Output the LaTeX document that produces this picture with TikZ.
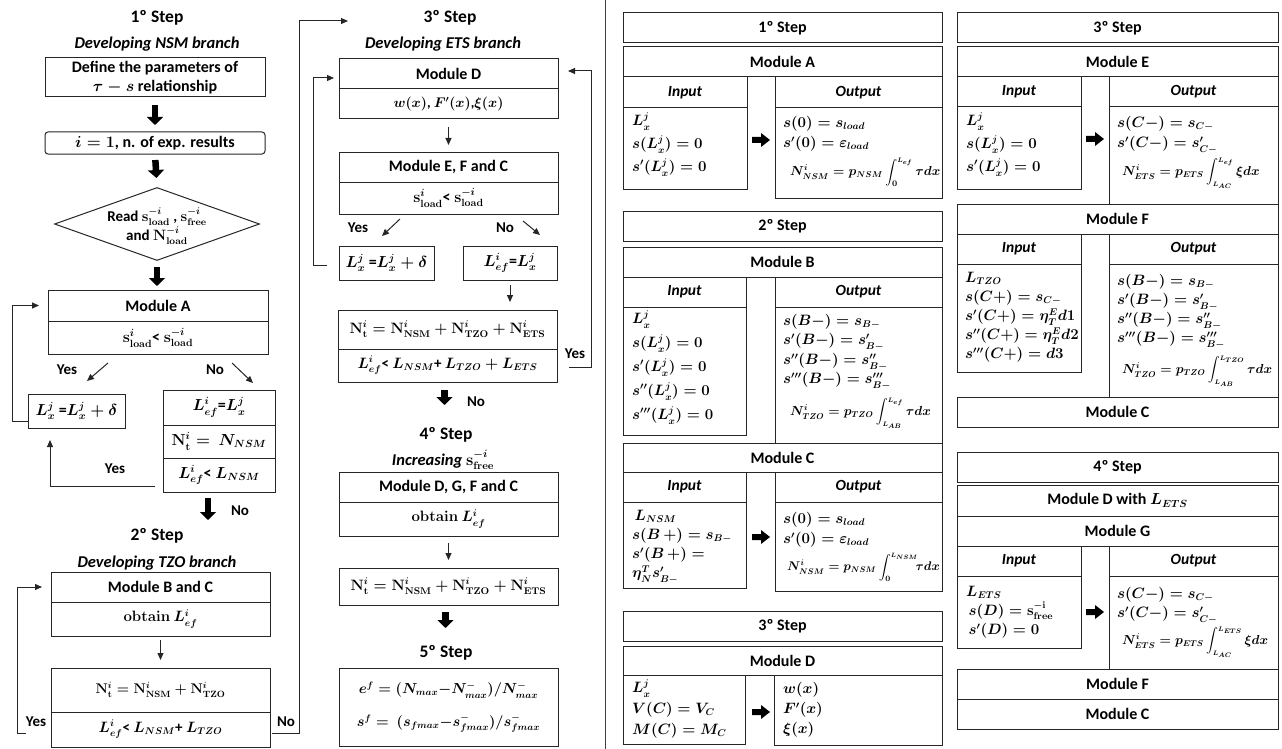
\RequirePackage{fix-cm}
\documentclass[tikz,border=0pt]{standalone}
\usepackage{amsmath}
\usepackage{fontspec}
\setmainfont{Carlito}
\renewcommand{\defaultscriptratio}{.65}
\renewcommand{\defaultscriptscriptratio}{.5}
\usetikzlibrary{shapes.geometric,arrows.meta,calc}
\newcommand{\mycell}[7][]{%
  \pgfmathsetmacro{\mcx}{(#3+#5)/2}%
  \pgfmathsetmacro{\mcy}{(#4+#6)/2}%
  \pgfmathsetmacro{\mcw}{#5-#3}%
  \pgfmathsetmacro{\mch}{#6-#4}%
  \node[cellbox, minimum width=\mcw pt, minimum height=\mch pt, #1] (#2) at (\mcx,\mcy) {#7};}
\newcommand{\rarrow}[2]{\fill[black] ($(#1,#2)+(-9,-3)$) -- ++(9,0) -- ++(0,-4) -- ++(9,7) -- ++(-9,7) -- ++(0,-4) -- ++(-9,0) -- cycle;}
\newcommand{\smlim}[1]{{\scriptscriptstyle #1}}
\tikzset{
  ln/.style={draw=black!85, line width=1pt},
  cellbox/.style={ln, rectangle, inner sep=0pt, outer sep=0pt, align=center, font=\fontsize{16}{19}\selectfont\bfseries\boldmath},
  mcell/.style={font=\fontsize{#1}{20}\selectfont\bfseries\boldmath},
  mcell/.default=16,
  hcell/.style={font=\fontsize{15.5}{18}\selectfont\bfseries\itshape},
  ttl/.style={font=\fontsize{17.5}{20}\selectfont\bfseries, inner sep=0pt},
  subt/.style={font=\fontsize{16.5}{19}\selectfont\bfseries\itshape\boldmath, inner sep=0pt},
  lab/.style={font=\fontsize{15}{18}\selectfont\bfseries, inner sep=0pt},
  body/.style={anchor=north west, align=left, inner sep=0pt, font=\fontsize{15}{#1}\selectfont\boldmath},
  intg/.style={anchor=west, inner sep=0pt, font=\fontsize{13}{16}\selectfont\boldmath},
  arr/.style={draw=black!85, line width=1pt, -{Triangle[length=7pt,width=6pt]}},
  bigarr/.style={line width=6.5pt, black, -{Triangle[length=8pt,width=16pt]}},
}
\begin{document}
\begin{tikzpicture}[x=1pt,y=-1pt]
\useasboundingbox (0,0) rectangle (1282,749);
\fill[white] (0,0) rectangle (1282,749);

% ---------------- Left column ----------------
\node[ttl] (t1) at (157,18) {1º Step};
\node[subt] (s1) at (157,44) {Developing NSM branch};
\mycell{def}{45}{58}{265}{97}{Define the parameters of\\$\tau - s$ relationship}
\mycell[rounded corners=3pt]{init}{45}{132}{265}{154}{$i = 1$, n. of exp. results}
\node[ln, diamond, minimum width=205pt, minimum height=73pt, inner sep=0pt] (dia) at (157,224) {};
\node[font=\fontsize{15}{19}\selectfont\bfseries\boldmath, align=center, inner sep=0pt] (diat) at (157,226) {Read $\mathbf{s}^{-i}_{\mathbf{load}}$ , $\mathbf{s}^{-i}_{\mathbf{free}}$\\and $\mathbf{N}^{-i}_{\mathbf{load}}$};
\mycell{modA}{48}{290}{268}{321}{Module A}
\mycell[mcell]{modAc}{48}{321}{268}{354}{$\mathbf{s}^{i}_{\mathbf{load}}$< $\mathbf{s}^{-i}_{\mathbf{load}}$}
\node[lab] (yesA) at (67,370) {Yes};
\node[lab] (noA) at (215,370) {No};
\mycell[mcell]{lx}{28}{394}{125}{428}{$L^{j}_{x}$ =$L^{j}_{x} + \delta$}
\mycell[mcell]{ef1}{163}{390}{275}{425}{$L^{i}_{ef}$=$L^{j}_{x}$}
\mycell[mcell]{ef2}{163}{425}{275}{458}{$\mathbf{N}^{i}_{\mathbf{t}} =\ N_{NSM}$}
\mycell[mcell]{ef3}{163}{458}{275}{492}{$L^{i}_{ef}$< $L_{NSM}$}
\node[lab] (yesB) at (115,469) {Yes};
\node[lab] (noB) at (240,511) {No};
\node[ttl] (t2) at (157,536) {2º Step};
\node[subt] (s2) at (157,563) {Developing TZO branch};
\mycell{mBC1}{51}{572}{270}{602}{Module B and C}
\mycell[mcell=15]{mBC2}{51}{602}{270}{636}{$\mathbf{obtain}\ L^{i}_{ef}$}
\mycell[mcell=14]{nt1}{51}{668}{270}{712}{$\mathbf{N}^{i}_{\mathbf{t}} = \mathbf{N}^{i}_{\mathbf{NSM}} + \mathbf{N}^{i}_{\mathbf{TZO}}$}
\mycell[mcell=15]{nt2}{51}{712}{270}{747}{$L^{i}_{ef}$< $L_{NSM}$+ $L_{TZO}$}
\node[lab] (yesC) at (36,722) {Yes};
\node[lab] (noC) at (286,722) {No};
\coordinate (loopNo) at (348,21);

% left connectors
\draw[bigarr, shorten <=8pt, shorten >=7pt] (def.south) -- (init.north);
\draw[bigarr, shorten <=6pt, shorten >=9pt] (init.south) -- (dia.north);
\draw[bigarr, shorten <=6pt, shorten >=4pt] (dia.south) -- (dia.south |- modA.north);
\draw[arr] (108,363) -- (87,381);
\draw[arr] (232,363) -- (253,383);
\draw[arr, shorten >=9pt] ($(lx.west)+(0,10)$) -- ++(-16,0) |- (modA.west);
\draw[arr, shorten >=12pt] ($(ef3.west)+(-8,11)$) -| ($(lx.south west)+(22,0)$);
\draw[bigarr] ($(ef3.south)+(-11,6)$) -- ++(0,22);
\draw[arr, shorten <=4pt, shorten >=8pt] (mBC2.south) -- (nt1.north);
\draw[arr, shorten >=9pt] ($(nt2.west)+(-25,4)$) -- ++(-9,0) |- (mBC1.west);
\draw[arr] ($(nt2.east)+(2,4)$) -- ++(27,0) |- (loopNo);

% ---------------- Middle column ----------------
\node[ttl] (t3) at (450,18) {3º Step};
\node[subt] (s3) at (443,44) {Developing ETS branch};
\mycell{mD1}{339}{59}{558}{89}{Module D}
\mycell[mcell=14]{mD2}{339}{89}{558}{119}{$w(x)$, $F'(x)$,$\xi(x)$}
\mycell{mE1}{339}{152}{558}{182}{Module E, F and C}
\mycell[mcell]{mE2}{339}{182}{558}{214}{$\mathbf{s}^{i}_{\mathbf{load}}$< $\mathbf{s}^{-i}_{\mathbf{load}}$}
\node[lab] (yesD) at (358,228) {Yes};
\node[lab] (noD) at (505,228) {No};
\mycell[mcell]{lxb}{339}{246}{434}{280}{$L^{j}_{x}$ =$L^{j}_{x} + \delta$}
\mycell[mcell]{efb}{463}{246}{557}{280}{$L^{i}_{ef}$=$L^{j}_{x}$}
\mycell[mcell=15]{nb1}{338}{310}{557}{349}{$\mathbf{N}^{i}_{\mathbf{t}} = \mathbf{N}^{i}_{\mathbf{NSM}} + \mathbf{N}^{i}_{\mathbf{TZO}} + \mathbf{N}^{i}_{\mathbf{ETS}}$}
\mycell[mcell=15]{nb2}{338}{349}{557}{382}{$L^{i}_{ef}$< $L_{NSM}$+ $L_{TZO} + L_{ETS}$}
\node[lab] (yesE) at (575,354) {Yes};
\node[lab] (noE) at (476,402) {No};
\node[ttl] (t4) at (446,435) {4º Step};
\node[subt] (s4) at (443,460) {Increasing $\mathbf{s}^{-i}_{\mathbf{free}}$};
\mycell{mG1}{339}{472}{558}{502}{Module D, G, F and C}
\mycell[mcell=15]{mG2}{339}{502}{558}{536}{$\mathbf{obtain}\ L^{i}_{ef}$}
\mycell[mcell=15]{nt3}{339}{568}{558}{605}{$\mathbf{N}^{i}_{\mathbf{t}} = \mathbf{N}^{i}_{\mathbf{NSM}} + \mathbf{N}^{i}_{\mathbf{TZO}} + \mathbf{N}^{i}_{\mathbf{ETS}}$}
\node[ttl] (t5) at (446,653) {5º Step};
\mycell[font=\fontsize{14.5}{33}\selectfont\boldmath]{fin}{339}{668}{558}{746}{$e^{f} = (N_{max}{-}N^{-}_{max})/N^{-}_{max}$\\$s^{f} =\ (s_{fmax}{-}s^{-}_{fmax})/s^{-}_{fmax}$}

% middle connectors
\draw[arr, shorten <=8pt, shorten >=7pt] (mD2.south) -- (mE1.north);
\draw[arr] (400,219) -- (382,236);
\draw[arr] (523,221) -- (540,235);
\draw[arr, shorten >=5pt] ($(lxb.west)+(-12,2)$) -- ++(-14,0) |- ($(mD1.west)+(0,4)$);
\draw[arr, shorten >=10pt] ($(nb2.east)+(12,2)$) -- ++(22,0) |- ($(mD1.east)+(0,-3)$);
\draw[arr, shorten <=5pt, shorten >=8pt] (efb.south) -- (efb.south |- nb1.north);
\draw[bigarr, shorten <=8pt, shorten >=5pt] ($(nb2.south)+(-3,0)$) -- ($(nb2.south)+(-3,28)$);
\draw[arr, shorten <=7pt, shorten >=8pt] (mG2.south) -- (nt3.north);
\draw[bigarr, shorten <=7pt, shorten >=5pt] ($(nt3.south)+(-3,0)$) -- ($(nt3.south)+(-3,28)$);

% separator
\draw[line width=1pt, black!75] (605,0) -- (605,749);

% ---------------- Right tables, column 1 ----------------
\mycell{r1s}{623}{13}{942}{43}{1º Step}
\mycell{rA}{623}{47}{942}{77}{Module A}
\mycell[hcell]{rAi}{623}{77}{747}{108}{Input}
\mycell[hcell]{rAo}{775}{77}{942}{108}{Output}
\mycell{rAib}{623}{108}{747}{189}{}
\mycell{rAob}{775}{108}{942}{198}{}
\rarrow{761}{140}
\node[body=23] (tAi) at (632,113) {$L^{j}_{x}$\\$s(L^{j}_{x}) = 0$\\$s'(L^{j}_{x}) = 0$};
\node[body=20] (tAo) at (783,116) {$s(0) = s_{load}$\\$s'(0) = \varepsilon_{load}$};
\node[intg] (tAn) at (790,172) {$N^{i}_{NSM} = p_{NSM}\displaystyle\int_{0}^{\smlim{L_{ef}}}\tau dx$};

\mycell{r2s}{623}{211}{942}{241}{2º Step}
\mycell{rB}{623}{247}{942}{277}{Module B}
\mycell[hcell]{rBi}{623}{277}{746}{307}{Input}
\mycell[hcell]{rBo}{775}{277}{942}{307}{Output}
\mycell{rBib}{623}{307}{746}{435}{}
\mycell{rBob}{775}{307}{942}{443}{}
\node[body=24] (tBi) at (632,311) {$L^{j}_{x}$\\$s(L^{j}_{x}) = 0$\\$s'(L^{j}_{x}) = 0$\\$s''(L^{j}_{x}) = 0$\\$s'''(L^{j}_{x}) = 0$};
\node[body=19.5] (tBo) at (783,314) {$s(B-) = s_{B-}$\\$s'(B-) = s'_{B-}$\\$s''(B-) = s''_{B-}$\\$s'''(B-) = s'''_{B-}$};
\node[intg] (tBn) at (790,413) {$N^{i}_{TZO} = p_{TZO}\displaystyle\int_{\smlim{L_{AB}}}^{\smlim{L_{ef}}}\tau dx$};

\mycell{rC}{623}{443}{942}{472}{Module C}
\mycell[hcell]{rCi}{623}{472}{746}{502}{Input}
\mycell[hcell]{rCo}{775}{472}{942}{502}{Output}
\mycell{rCib}{623}{502}{746}{588}{}
\mycell{rCob}{775}{502}{942}{591}{}
\rarrow{761}{537}
\node[body=19] (tCi) at (632,510) {\,$L_{NSM}$\\$s(B\,+) = s_{B-}$\\$s'(B\,+) =$\\$\eta^{T}_{N}s'_{B-}$};
\node[body=20] (tCo) at (783,512) {$s(0) = s_{load}$\\$s'(0) = \varepsilon_{load}$};
\node[intg, font=\fontsize{12.5}{15}\selectfont\boldmath] (tCn) at (787,567) {$N^{i}_{NSM} = p_{NSM}\displaystyle\int_{0}^{\smlim{L_{NSM}}}\!\!\tau dx$};

\mycell{r3s}{623}{611}{942}{641}{3º Step}
\mycell{rD}{623}{646}{942}{675}{Module D}
\mycell{rDib}{623}{675}{745}{744}{}
\mycell{rDob}{774}{675}{942}{745}{}
\rarrow{761}{712}
\node[body=21] (tDi) at (632,680) {$L^{j}_{x}$\\$V(C) = V_{C}$\\$M(C) = M_{C}$};
\node[body=20] (tDo) at (783,682) {$w(x)$\\$F'(x)$\\$\xi(x)$};

% ---------------- Right tables, column 2 ----------------
\mycell{r3s2}{957}{13}{1278}{43}{3º Step}
\mycell{rE}{957}{47}{1278}{77}{Module E}
\mycell[hcell]{rEi}{957}{77}{1081}{107}{Input}
\mycell[hcell]{rEo}{1109}{77}{1278}{107}{Output}
\mycell{rEib}{957}{107}{1081}{189}{}
\mycell{rEob}{1109}{107}{1278}{204}{}
\rarrow{1095}{139}
\node[body=23] (tEi) at (966,113) {$L^{j}_{x}$\\$s(L^{j}_{x}) = 0$\\$s'(L^{j}_{x}) = 0$};
\node[body=20] (tEo) at (1117,116) {$s(C-) = s_{C-}$\\$s'(C-) = s'_{C-}$};
\node[intg] (tEn) at (1122,173) {$N^{i}_{ETS} = p_{ETS}\displaystyle\int_{\smlim{L_{AC}}}^{\smlim{L_{ef}}}\xi dx$};

\mycell{rF}{957}{204}{1278}{234}{Module F}
\mycell[hcell]{rFi}{957}{234}{1081}{264}{Input}
\mycell[hcell]{rFo}{1109}{234}{1278}{264}{Output}
\mycell{rFib}{957}{264}{1081}{372}{}
\mycell{rFob}{1109}{264}{1278}{397}{}
\node[body=19] (tFi) at (965,272) {$L_{TZO}$\\$s(C{+}) = s_{C-}$\\$s'(C{+}) = \smash{\eta^{E}_{T}}d1$\\$s''(C{+}) = \smash{\eta^{E}_{T}}d2$\\$s'''(C{+}) = d3$};
\node[body=19] (tFo) at (1117,274) {$s(B-) = s_{B-}$\\$s'(B-) = s'_{B-}$\\$s''(B-) = s''_{B-}$\\$s'''(B-) = s'''_{B-}$};
\node[intg] (tFn) at (1122,371) {$N^{i}_{TZO} = p_{TZO}\displaystyle\int_{\smlim{L_{AB}}}^{\smlim{L_{TZO}}}\tau dx$};
\mycell{rC2}{957}{397}{1278}{427}{Module C}

\mycell{r4s}{957}{452}{1278}{482}{4º Step}
\mycell{rDL}{957}{485}{1278}{516}{Module D with $L_{ETS}$}
\mycell{rG}{957}{516}{1278}{546}{Module G}
\mycell[hcell]{rGi}{957}{546}{1081}{576}{Input}
\mycell[hcell]{rGo}{1109}{546}{1278}{576}{Output}
\mycell{rGib}{957}{576}{1081}{648}{}
\mycell{rGob}{1109}{576}{1278}{669}{}
\rarrow{1095}{612}
\node[body=19] (tGi) at (966,586) {$L_{ETS}$\\\,$s(D) = \mathbf{s}^{-\mathbf{i}}_{\mathbf{free}}$\\\,$s'(D) = 0$};
\node[body=19] (tGo) at (1117,587) {$s(C-) = s_{C-}$\\$s'(C-) = s'_{C-}$};
\node[intg] (tGn) at (1122,642) {$N^{i}_{ETS} = p_{ETS}\displaystyle\int_{\smlim{L_{AC}}}^{\smlim{L_{ETS}}}\xi dx$};
\mycell{rF2}{957}{669}{1278}{699}{Module F}
\mycell{rC3}{957}{699}{1278}{729}{Module C}
\end{tikzpicture}
\end{document}
